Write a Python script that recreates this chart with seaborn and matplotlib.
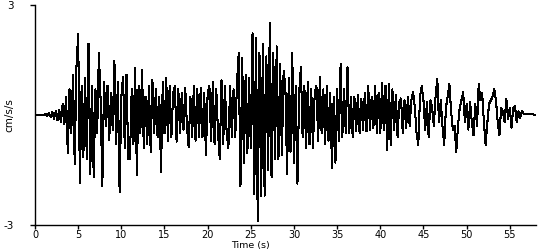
import numpy as np
import pandas as pd
import matplotlib
matplotlib.use("Agg")
import matplotlib.pyplot as plt
import seaborn as sns

sample_step = 0.2
acc = [
    0, 0, 0, 0, 0,
    0, 0.03, -0.04, 0.05, -0.05,
    0.08, -0.1, 0.1, -0.15, 0.15,
    -0.2, 0.3, -0.25, 0.5, -1.05,
    0.7, -0.5, 1.1, -1.35, 1.3,
    2.2, -1.85, 0.8, -1.15, 1.0,
    -1.2, 1.95, -1.6, 0.8, -1.7,
    0.7, -0.5, 1.7, 0.4, -1.95,
    0.9, -0.3, 0.8, -0.68, 0.6,
    -0.4, 1.47, -0.8, 0.9, -2.1,
    0.5, 1.05, -0.9, 1.1, -1.2,
    -1.2, 0.7, -0.8, 1.27, -1.64,
    0.8, -0.5, 1.22, -0.9, 0.5,
    -0.8, 0.8, -1.0, 0.95, -0.5,
    0.7, -0.6, 0.5, -1.55, 0.9,
    -0.5, 1.0, -0.7, 0.8, -0.6,
    0.6, 0.8, -0.73, 0.7, -0.5,
    0.6, -0.4, 0.75, -0.3, -0.87,
    0.5, -0.6, 0.8, -0.7, 0.7,
    -0.6, 0.75, -0.6, 0.6, -1.1,
    0.6, 0.8, -0.7, 0.9, -0.8,
    0.7, -0.5, -1.2, 0.95, -0.8,
    0.8, -0.5, -0.9, 0.8, -0.6,
    0.7, -0.6, 0.9, 1.68, -1.95,
    1.55, -1.3, 1.1, -1.05, 1.0,
    -0.9, 2.23, -2.15, 2.1, -2.9,
    1.7, -2.2, 1.95, -2.2, 1.6,
    -1.5, 2.5, -1.7, 1.7, -1.2,
    1.87, -1.2, 1.4, -1.1, 1.2,
    0.8, -1.6, 1.0, -1.0, 1.68,
    -1.3, 0.8, -1.87, 0.6, 1.3,
    -0.6, 0.8, -0.9, 0.9, -0.8,
    0.7, -0.9, 0.6, 0.8, -0.7,
    1.05, -0.5, 0.7, -0.8, 0.8,
    -0.7, 0.6, -1.45, 0.5, -1.3,
    0.7, -0.7, 1.4, -0.6, 0.7,
    -0.5, 1.3, -0.5, 0.5, -0.6,
    0.5, -0.45, 0.55, -0.5, 0.45,
    -0.4, 0.6, -0.45, 0.8, -0.4,
    0.5, -0.35, 0.8, -0.5, 0.6,
    -0.5, 0.87, -0.4, 0.8, -0.95,
    0.85, -0.82, 0.7, -0.4, 0.55,
    -0.6, 0.35, 0.45, -0.5, 0.4,
    -0.35, 0.5, -0.3, 0.4, 0.63,
    0.2, -0.5, -0.82, 0.5, 0.78,
    0.4, -0.4, 0.35, -0.6, 0.4,
    0.2, -0.3, 0.5, 0.98, -0.2,
    0.4, -0.3, -0.82, 0.2, 0.5,
    0.85, 0.1, -0.4, -0.3, -1.0,
    -0.3, 0.2, 0.4, 0.63, -0.2,
    0.3, -0.4, 0.35, -0.2, -0.55,
    0.3, -0.3, 0.85, 0.4, 0.6,
    -0.2, -0.82, -0.2, 0.3, 0.4,
    0.5, 0.7, 0.4, -0.2, -0.55,
    0.2, 0.1, -0.2, 0.45, -0.1,
    0.2, -0.35, 0.2, 0.25, -0.2,
    0.1, -0.08, 0.1, 0.04, 0.04,
    0.03, 0.03, 0.02, 0.02, 0.01,
    0.01,
]
time_s = np.arange(len(acc)) * sample_step

x_ticks = [0, 5, 10, 15, 20, 25, 30, 35, 40, 45, 50, 55]
y_ticks = [-3, 3]
x_label = "Time (s)"
y_label = "cm/s/s"

df = pd.DataFrame({"t": time_s, "a": acc})

sns.set_style("ticks")
plt.rcParams["font.family"] = ["DejaVu Sans"]

fig = plt.figure(figsize=(5.5, 2.5), dpi=100)
ax = fig.add_axes([35 / 550, 25 / 250, 500.7 / 550, 220 / 250])

sns.lineplot(data=df, x="t", y="a", ax=ax, color="black", linewidth=0.75,
             estimator=None, sort=False, antialiased=False)

ax.set_xlim(0, 58)
ax.set_ylim(-3, 3)
ax.set_xticks(x_ticks)
ax.set_xticklabels([str(v) for v in x_ticks])
ax.set_yticks(y_ticks)
ax.set_yticklabels([str(v) for v in y_ticks])

for side in ["top", "right"]:
    ax.spines[side].set_visible(False)
for side in ["left", "bottom"]:
    ax.spines[side].set_color("black")
    ax.spines[side].set_linewidth(1.0)

ax.tick_params(axis="x", direction="out", length=3, width=1, pad=0.5,
               labelsize=7, colors="black")
ax.tick_params(axis="y", direction="out", length=3.5, width=1, pad=12,
               labelsize=7.5, colors="black")

ax.set_xlabel(x_label, fontsize=6.8, color="black", labelpad=0)
ax.set_ylabel(y_label, fontsize=7.5, color="black")
ax.xaxis.set_label_coords((250 - 35) / 500.7, -0.072)
ax.yaxis.set_label_coords((14 - 35) / 500.7, 0.5)

fig.savefig("out.png", dpi=100)
